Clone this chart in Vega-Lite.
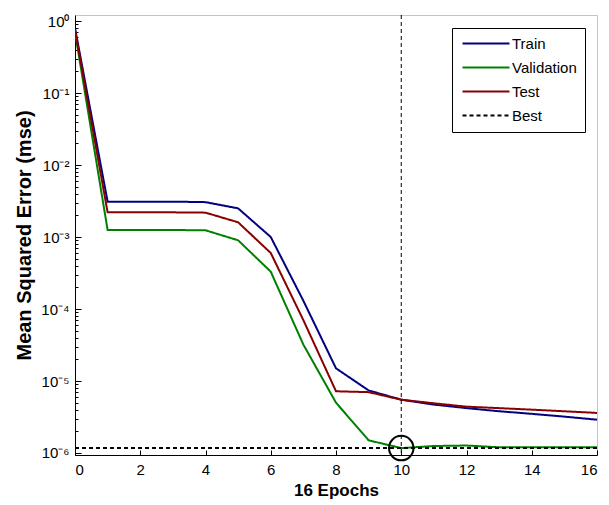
{
  "$schema": "https://vega.github.io/schema/vega-lite/v6.json",
  "width": 522,
  "height": 440,
  "autosize": {"type": "none"},
  "padding": {"left": 75, "top": 15, "right": 12, "bottom": 50},
  "background": "white",
  "config": {
    "view": {"stroke": "#c4c4c4", "strokeWidth": 1},
    "font": "Liberation Sans"
  },
  "layer": [
    {
      "data": {
        "values": [
          {"epoch": 0, "series": "Train", "mse": 0.8},
          {"epoch": 1, "series": "Train", "mse": 0.0031},
          {"epoch": 2, "series": "Train", "mse": 0.0031},
          {"epoch": 3, "series": "Train", "mse": 0.0031},
          {"epoch": 4, "series": "Train", "mse": 0.00305},
          {"epoch": 5, "series": "Train", "mse": 0.0025},
          {"epoch": 6, "series": "Train", "mse": 0.001},
          {"epoch": 7, "series": "Train", "mse": 0.00013},
          {"epoch": 8, "series": "Train", "mse": 0.000015},
          {"epoch": 9, "series": "Train", "mse": 0.0000074},
          {"epoch": 10, "series": "Train", "mse": 0.0000055},
          {"epoch": 11, "series": "Train", "mse": 0.0000047},
          {"epoch": 12, "series": "Train", "mse": 0.0000042},
          {"epoch": 13, "series": "Train", "mse": 0.0000038},
          {"epoch": 14, "series": "Train", "mse": 0.0000035},
          {"epoch": 15, "series": "Train", "mse": 0.0000032},
          {"epoch": 16, "series": "Train", "mse": 0.0000029},
          {"epoch": 0, "series": "Validation", "mse": 0.7},
          {"epoch": 1, "series": "Validation", "mse": 0.00125},
          {"epoch": 2, "series": "Validation", "mse": 0.00125},
          {"epoch": 3, "series": "Validation", "mse": 0.00125},
          {"epoch": 4, "series": "Validation", "mse": 0.00124},
          {"epoch": 5, "series": "Validation", "mse": 0.0009},
          {"epoch": 6, "series": "Validation", "mse": 0.00033},
          {"epoch": 7, "series": "Validation", "mse": 0.000032},
          {"epoch": 8, "series": "Validation", "mse": 0.000005},
          {"epoch": 9, "series": "Validation", "mse": 0.0000015},
          {"epoch": 10, "series": "Validation", "mse": 0.00000117},
          {"epoch": 11, "series": "Validation", "mse": 0.00000125},
          {"epoch": 12, "series": "Validation", "mse": 0.00000127},
          {"epoch": 13, "series": "Validation", "mse": 0.0000012},
          {"epoch": 14, "series": "Validation", "mse": 0.0000012},
          {"epoch": 15, "series": "Validation", "mse": 0.0000012},
          {"epoch": 16, "series": "Validation", "mse": 0.0000012},
          {"epoch": 0, "series": "Test", "mse": 0.75},
          {"epoch": 1, "series": "Test", "mse": 0.0022},
          {"epoch": 2, "series": "Test", "mse": 0.0022},
          {"epoch": 3, "series": "Test", "mse": 0.0022},
          {"epoch": 4, "series": "Test", "mse": 0.00218},
          {"epoch": 5, "series": "Test", "mse": 0.0016},
          {"epoch": 6, "series": "Test", "mse": 0.0006},
          {"epoch": 7, "series": "Test", "mse": 0.00007},
          {"epoch": 8, "series": "Test", "mse": 0.0000072},
          {"epoch": 9, "series": "Test", "mse": 0.000007},
          {"epoch": 10, "series": "Test", "mse": 0.0000055},
          {"epoch": 11, "series": "Test", "mse": 0.0000049},
          {"epoch": 12, "series": "Test", "mse": 0.0000044},
          {"epoch": 13, "series": "Test", "mse": 0.0000042},
          {"epoch": 14, "series": "Test", "mse": 0.000004},
          {"epoch": 15, "series": "Test", "mse": 0.0000038},
          {"epoch": 16, "series": "Test", "mse": 0.0000036},
          {"epoch": 0, "series": "Best", "mse": 0.00000117},
          {"epoch": 16, "series": "Best", "mse": 0.00000117}
        ]
      },
      "mark": {"type": "line", "clip": true},
      "encoding": {
        "x": {
          "field": "epoch",
          "type": "quantitative",
          "scale": {"domain": [0, 16], "nice": false, "zero": false},
          "axis": {
            "values": [0, 2, 4, 6, 8, 10, 12, 14, 16],
            "title": "16 Epochs",
            "grid": false,
            "tickSize": -5,
            "labelPadding": 12,
            "labelFont": "Liberation Sans",
            "labelFontSize": 15,
            "labelColor": "black",
            "domainColor": "black",
            "tickColor": "black",
            "titleFont": "Liberation Sans",
            "titleFontSize": 17,
            "titleFontWeight": "bold",
            "titleColor": "black",
            "titlePadding": 5
          }
        },
        "y": {
          "field": "mse",
          "type": "quantitative",
          "scale": {"type": "log", "domain": [9.38e-7, 1.212], "nice": false},
          "axis": {
            "values": [1e-6, 2e-6, 3e-6, 4e-6, 5e-6, 6e-6, 7e-6, 8e-6, 9e-6,
                       1e-5, 2e-5, 3e-5, 4e-5, 5e-5, 6e-5, 7e-5, 8e-5, 9e-5,
                       1e-4, 2e-4, 3e-4, 4e-4, 5e-4, 6e-4, 7e-4, 8e-4, 9e-4,
                       1e-3, 2e-3, 3e-3, 4e-3, 5e-3, 6e-3, 7e-3, 8e-3, 9e-3,
                       1e-2, 2e-2, 3e-2, 4e-2, 5e-2, 6e-2, 7e-2, 8e-2, 9e-2,
                       0.1, 0.2, 0.3, 0.4, 0.5, 0.6, 0.7, 0.8, 0.9, 1],
            "labelExpr": "abs(log(datum.value)/LN10 - round(log(datum.value)/LN10)) < 0.000001 ? '10' + ['⁰','⁻¹','⁻²','⁻³','⁻⁴','⁻⁵','⁻⁶'][round(-log(datum.value)/LN10)] : ''",
            "title": "Mean Squared Error  (mse)",
            "grid": false,
            "tickSize": {"condition": {"test": "abs(log(datum.value)/LN10 - round(log(datum.value)/LN10)) < 0.000001", "value": -6}, "value": -3},
            "labelPadding": 12,
            "labelFont": "Liberation Sans",
            "labelFontSize": 15,
            "labelColor": "black",
            "labelOverlap": false,
            "domainColor": "black",
            "tickColor": "black",
            "titleFont": "Liberation Sans",
            "titleFontSize": 20,
            "titleFontWeight": "bold",
            "titleColor": "black",
            "titlePadding": 6
          }
        },
        "color": {
          "field": "series",
          "type": "nominal",
          "scale": {
            "domain": ["Train", "Validation", "Test", "Best"],
            "range": ["#000080", "#008000", "#880000", "#000000"]
          },
          "legend": {
            "title": null,
            "orient": "none",
            "legendX": 377,
            "legendY": 13,
            "fillColor": "white",
            "strokeColor": "black",
            "padding": 8,
            "symbolType": "M-1,0H8.4",
            "symbolSize": 100,
            "symbolStrokeWidth": 2,
            "labelFont": "Liberation Sans",
            "labelFontSize": 15,
            "labelColor": "black",
            "labelOffset": 37,
            "rowPadding": 8
          }
        },
        "strokeDash": {
          "field": "series",
          "type": "nominal",
          "scale": {
            "domain": ["Train", "Validation", "Test", "Best"],
            "range": [[1, 0], [1, 0], [1, 0], [4, 3]]
          },
          "legend": {
            "title": null,
            "orient": "none",
            "legendX": 377,
            "legendY": 13,
            "fillColor": "white",
            "strokeColor": "black",
            "padding": 8,
            "symbolType": "M-1,0H8.4",
            "symbolSize": 100,
            "symbolStrokeWidth": 2,
            "labelFont": "Liberation Sans",
            "labelFontSize": 15,
            "labelColor": "black",
            "labelOffset": 37,
            "rowPadding": 8
          }
        },
        "strokeWidth": {
          "field": "series",
          "type": "nominal",
          "scale": {
            "domain": ["Train", "Validation", "Test", "Best"],
            "range": [2, 2, 2, 1]
          },
          "legend": null
        }
      }
    },
    {
      "data": {"values": [{"epoch": 10}]},
      "mark": {"type": "rule", "color": "black", "strokeDash": [4, 3], "strokeWidth": 1},
      "encoding": {
        "x": {"field": "epoch", "type": "quantitative"}
      }
    },
    {
      "data": {"values": [{"epoch": 10, "mse": 0.00000117}]},
      "mark": {"type": "point", "shape": "circle", "filled": false, "size": 600, "stroke": "black", "strokeWidth": 2, "opacity": 1},
      "encoding": {
        "x": {"field": "epoch", "type": "quantitative"},
        "y": {"field": "mse", "type": "quantitative"}
      }
    }
  ]
}
